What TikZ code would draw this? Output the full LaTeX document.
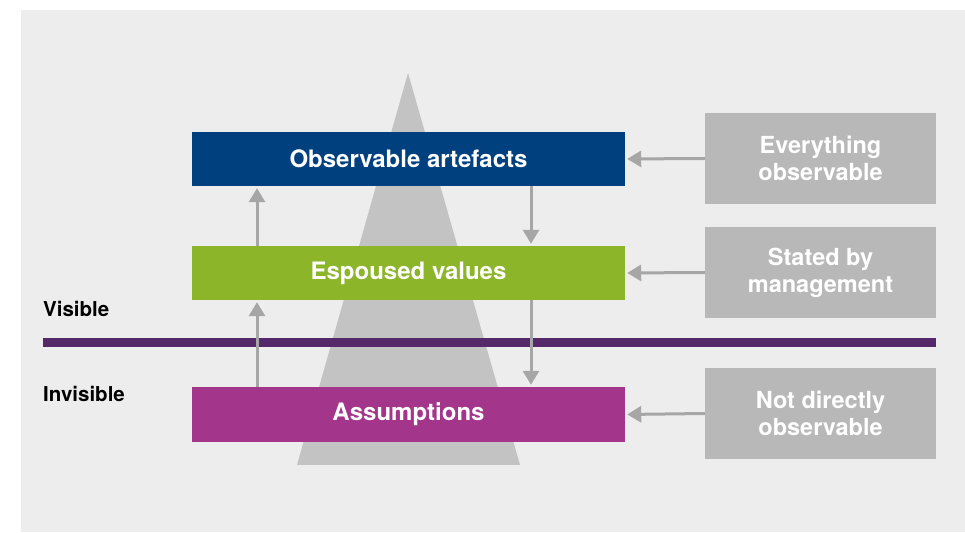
\documentclass[tikz,border=0pt]{standalone}
\usepackage{fontspec}
\setmainfont{TeX Gyre Heros}
\usetikzlibrary{arrows.meta}
\definecolor{panel}{HTML}{EDEDED}
\definecolor{tri}{HTML}{C3C3C3}
\definecolor{obsblue}{HTML}{00407F}
\definecolor{espgreen}{HTML}{8CB52A}
\definecolor{asspurple}{HTML}{A3358A}
\definecolor{linepurple}{HTML}{55286A}
\definecolor{sidegray}{HTML}{B8B8B8}
\definecolor{arrgray}{HTML}{A6A6A6}
\tikzset{
  x=1pt, y=1pt,
  levelbox/.style={minimum width=433pt, minimum height=54pt, inner sep=0pt, text=white,
    font=\fontsize{24}{27}\selectfont\bfseries},
  sidebox/.style={fill=sidegray, minimum width=231pt, minimum height=91pt, inner sep=0pt,
    text=white, align=center, font=\fontsize{23.5}{27}\selectfont\bfseries},
  arr/.style={draw=arrgray, line width=3pt, -{Triangle[length=14pt,width=16pt]}, shorten >=2pt},
  sidelabel/.style={anchor=base west, inner sep=0pt, font=\fontsize{20.5}{24}\selectfont\bfseries}
}
\begin{document}
\begin{tikzpicture}
\useasboundingbox (0,0) rectangle (965,532);
\fill[panel] (21,0) rectangle (965,522);
\fill[tri] (408,459) -- (520,67) -- (297,67) -- cycle;
\node[levelbox, fill=obsblue] (obs) at (408.5,373) {Observable artefacts};
\node[levelbox, fill=espgreen] (esp) at (408.5,259) {Espoused values};
\node[levelbox, fill=asspurple, minimum height=55pt] (ass) at (408.5,117.5) {Assumptions};
\node[sidebox] (s1) at (820.5,373.5) {Everything\\observable};
\node[sidebox] (s2) at (820.5,259.5) {Stated by\\management};
\node[sidebox] (s3) at (820.5,118.5) {Not directly\\observable};
\coordinate (ls) at (43,189.5);
\coordinate (le) at (936,189.5);
\draw[linepurple, line width=9pt] (ls) -- (le);
\node[sidelabel] (vis) at (43,215) {Visible};
\node[sidelabel] (invis) at (43,130) {Invisible};
\coordinate (xl) at (257,0);
\coordinate (xr) at (531,0);
\draw[arr] (s1.west) -- (obs.east);
\draw[arr] (s2.west) -- (esp.east);
\draw[arr] (s3.west) -- (ass.east);
\draw[arr] (esp.north -| xl) -- (obs.south -| xl);
\draw[arr] (ass.north -| xl) -- (esp.south -| xl);
\draw[arr] (obs.south -| xr) -- (esp.north -| xr);
\draw[arr] (esp.south -| xr) -- (ass.north -| xr);
\end{tikzpicture}
\end{document}
